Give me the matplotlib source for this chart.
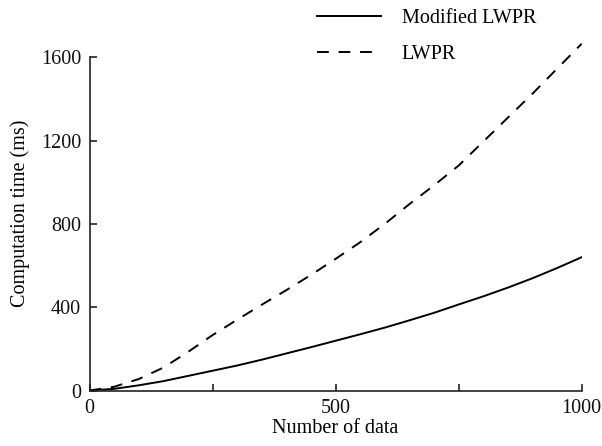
import matplotlib
matplotlib.use("Agg")
import matplotlib.pyplot as plt
from matplotlib.ticker import FixedLocator, FuncFormatter

plt.rcParams['font.family'] = ['Liberation Serif', 'DejaVu Serif']
plt.rcParams['lines.scale_dashes'] = False

n_data = [0, 50, 100, 150, 200, 250, 300, 350, 400, 450, 500, 550, 600,
          650, 700, 750, 800, 850, 900, 950, 1000]
modified_lwpr = [0, 8, 25, 45, 70, 95, 120, 148, 178, 208, 239, 270, 302,
                 337, 373, 413, 452, 494, 539, 588, 640]
lwpr = [0, 18, 55, 110, 185, 266, 340, 412, 482, 555, 632, 712, 800,
        895, 985, 1080, 1195, 1310, 1425, 1545, 1665]

x_ticks = [0, 250, 500, 750, 1000]
x_labels = {0: '0', 500: '500', 1000: '1000'}
y_ticks = [0, 400, 800, 1200, 1600]

FS = 14.5

fig = plt.figure(figsize=(6.02, 4.46), dpi=100)
ax = fig.add_axes([0.1487, 0.1244, 0.8176, 0.794])

l1, = ax.plot(n_data, modified_lwpr, color='black', lw=1.4, label='Modified LWPR')
l2, = ax.plot(n_data, lwpr, color='black', lw=1.4, linestyle='--', label='LWPR')
l2.set_dashes([8.5, 7])

ax.set_xlim(0, 1000)
ax.set_ylim(0, 1700)
ax.spines['top'].set_visible(False)
ax.spines['right'].set_visible(False)
ax.spines['left'].set_bounds(0, 1600)
for s in ('left', 'bottom'):
    ax.spines[s].set_color('#222222')
    ax.spines[s].set_linewidth(1.2)

ax.xaxis.set_major_locator(FixedLocator(x_ticks))
ax.xaxis.set_major_formatter(FuncFormatter(lambda v, p: x_labels.get(int(round(v)), '')))
ax.set_yticks(y_ticks)
ax.tick_params(direction='in', length=5, width=1.2, colors='#222222',
               labelcolor='#111111', labelsize=FS)
ax.tick_params(axis='x', pad=6)
ax.tick_params(axis='y', pad=6)

ax.set_xlabel('Number of data', fontsize=FS, labelpad=1)
ax.set_ylabel('Computation time (ms)', fontsize=FS, labelpad=8)

leg = fig.legend(handles=[l1, l2], loc='upper left', bbox_to_anchor=(0.5266, 0.981),
                 frameon=False, fontsize=FS, handlelength=3.2, handletextpad=1.0,
                 labelspacing=0.85, borderpad=0, borderaxespad=0)

fig.savefig('out.png', dpi=100)
